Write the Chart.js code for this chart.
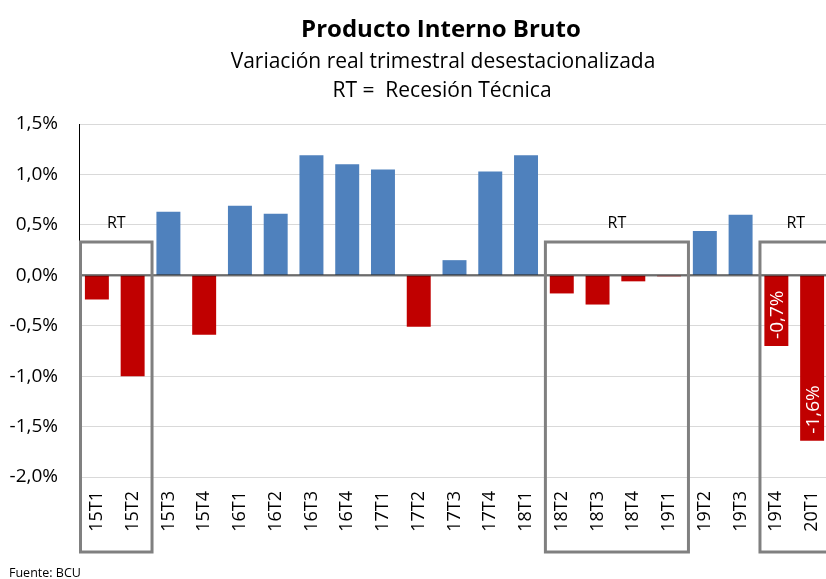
<!DOCTYPE html>
<html><head><meta charset="utf-8">
<script src="https://cdn.jsdelivr.net/npm/chart.js@4/dist/chart.umd.min.js"></script>
<style>html,body{margin:0;padding:0;background:#fff;overflow:hidden;width:826px;height:579px}canvas{display:block}</style>
</head><body>
<canvas id="c" width="830" height="579"></canvas>
<script>
const categories = ['15T1','15T2','15T3','15T4','16T1','16T2','16T3','16T4','17T1','17T2','17T3','17T4','18T1','18T2','18T3','18T4','19T1','19T2','19T3','19T4','20T1'];
const values = [-0.24,-1.00,0.63,-0.59,0.69,0.61,1.19,1.10,1.05,-0.51,0.15,1.03,1.19,-0.18,-0.29,-0.06,-0.01,0.44,0.60,-0.70,-1.64];
const yTicks = [-2.0,-1.5,-1.0,-0.5,0.0,0.5,1.0,1.5];
const recessionFrom = ['15T1','18T2','19T4'];
const recessionTo = ['15T2','19T1','20T1'];
const recessionLabel = 'RT';
const labeledBars = ['19T4','20T1'];
const titleLines = ['Producto Interno Bruto','Variación real trimestral desestacionalizada','RT =  Recesión Técnica'];
const sourceNote = 'Fuente: BCU';

const FONT = '"Open Sans", Lato, sans-serif';
const fmt = v => v.toFixed(1).replace('.', ',') + '%';

const overlay = {
  id: 'overlay',
  afterDatasetsDraw(chart) {
    const ctx = chart.ctx, xs = chart.scales.x, ys = chart.scales.y, ca = chart.chartArea;
    const y0 = ys.getPixelForValue(0);
    ctx.save();
    ctx.strokeStyle = 'rgba(0,0,0,0.5)';
    ctx.lineWidth = 2.5;
    ctx.beginPath(); ctx.moveTo(ca.left, y0); ctx.lineTo(ca.right, y0); ctx.stroke();
    const half = (xs.getPixelForValue(1) - xs.getPixelForValue(0)) / 2;
    const top = ys.getPixelForValue(0.33);
    const bottom = ca.bottom + 75;
    recessionFrom.forEach((f, k) => {
      const i0 = categories.indexOf(f), i1 = categories.indexOf(recessionTo[k]);
      const l = xs.getPixelForValue(i0) - half + 1.5;
      const r = xs.getPixelForValue(i1) + half + 1.5;
      ctx.strokeStyle = '#808080';
      ctx.lineWidth = 3;
      ctx.strokeRect(l, top, r - l, bottom - top);
      ctx.fillStyle = '#000';
      ctx.font = '16px ' + FONT;
      ctx.textAlign = 'center';
      ctx.textBaseline = 'alphabetic';
      ctx.fillText(recessionLabel, (l + r) / 2, top - 14);
    });
    const meta = chart.getDatasetMeta(0);
    labeledBars.forEach(c => {
      const i = categories.indexOf(c);
      const bar = meta.data[i];
      const yEnd = ys.getPixelForValue(values[i]);
      ctx.save();
      ctx.translate(bar.x + 1, yEnd - 7);
      ctx.rotate(-Math.PI / 2);
      ctx.fillStyle = '#fff';
      ctx.font = '19px ' + FONT;
      ctx.textAlign = 'left';
      ctx.textBaseline = 'middle';
      ctx.fillText(fmt(values[i]), 0, 0);
      ctx.restore();
    });
    ctx.restore();
  },
  afterDraw(chart) {
    const ctx = chart.ctx;
    ctx.save();
    ctx.fillStyle = '#000';
    ctx.textAlign = 'center';
    ctx.textBaseline = 'alphabetic';
    ctx.font = 'bold 24px ' + FONT;
    ctx.fillText(titleLines[0], 441, 37);
    ctx.font = '21px ' + FONT;
    ctx.fillText(titleLines[1], 443, 68);
    ctx.fillText(titleLines[2], 442, 97);
    ctx.textAlign = 'left';
    ctx.font = '12.5px ' + FONT;
    ctx.fillText(sourceNote, 9, 577);
    ctx.restore();
  }
};

new Chart(document.getElementById('c').getContext('2d'), {
  type: 'bar',
  data: {
    labels: categories,
    datasets: [{
      data: values,
      backgroundColor: values.map(v => v < 0 ? '#C00000' : '#4F81BD'),
      barPercentage: 0.67,
      categoryPercentage: 1
    }]
  },
  options: {
    responsive: false,
    animation: false,
    layout: { padding: { top: 124, left: 0, right: 0, bottom: 0 } },
    plugins: { legend: { display: false }, tooltip: { enabled: false }, title: { display: false } },
    scales: {
      x: {
        grid: { display: false, drawTicks: false },
        border: { display: false },
        ticks: { minRotation: 90, maxRotation: 90, autoSkip: false, padding: 14, color: '#000', font: { family: FONT, size: 18 } },
        afterFit(s) { s.height = 102; s.paddingLeft = 0; s.paddingRight = 0; }
      },
      y: {
        min: -2, max: 1.5,
        afterBuildTicks(s) { s.ticks = yTicks.map(v => ({ value: v })); },
        grid: { color: '#d9d9d9', lineWidth: 1, drawTicks: false },
        border: { display: true, color: '#000', width: 1 },
        ticks: { padding: 21, color: '#000', font: { family: FONT, size: 19 }, callback: v => fmt(v) },
        afterFit(s) { s.width = 79; }
      }
    }
  },
  plugins: [overlay]
});
</script>
</body></html>
